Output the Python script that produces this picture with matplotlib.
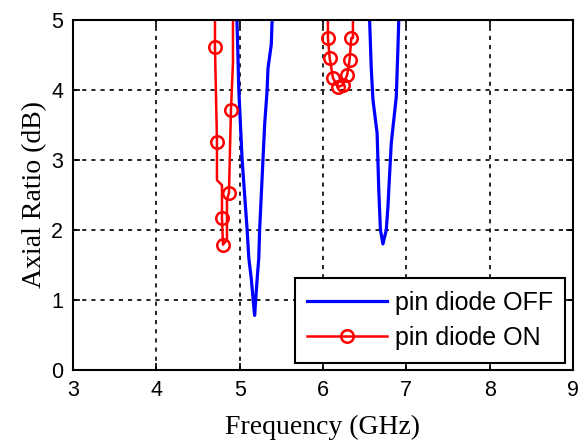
import numpy as np
import matplotlib
matplotlib.use("Agg")
import matplotlib.pyplot as plt

# data ##########################################################################################
off_f1 = [4.95, 4.968, 4.99, 5.03, 5.09, 5.11, 5.14, 5.17, 5.18, 5.21, 5.23, 5.24, 5.28, 5.30, 5.33, 5.34, 5.38, 5.39, 5.40]
off_ar1 = [5.5, 5.0, 4.0, 3.0, 2.0, 1.6, 1.3, 0.9, 0.78, 1.3, 1.6, 2.0, 3.0, 3.5, 4.0, 4.3, 4.65, 5.0, 5.5]

off_f2 = [6.55, 6.56, 6.58, 6.60, 6.65, 6.67, 6.69, 6.72, 6.76, 6.78, 6.79, 6.82, 6.88, 6.90, 6.91, 6.92]
off_ar2 = [5.5, 5.0, 4.3, 3.86, 3.38, 2.57, 2.0, 1.8, 2.0, 2.33, 2.57, 3.24, 3.9, 4.6, 5.0, 5.5]

on_f1 = [4.704, 4.704, 4.728, 4.728, 4.788, 4.788, 4.800, 4.848, 4.848, 4.872, 4.884, 4.896, 4.920, 4.920]
on_ar1 = [5.5, 4.61, 3.26, 2.71, 2.64, 2.17, 1.79, 1.86, 2.43, 2.53, 3.14, 3.71, 4.39, 5.5]
on_mark1 = [1, 2, 5, 6, 9, 11]

on_f2 = [6.06, 6.06, 6.08, 6.12, 6.18, 6.24, 6.29, 6.32, 6.34, 6.36, 6.36]
on_ar2 = [5.5, 4.74, 4.46, 4.17, 4.04, 4.07, 4.21, 4.43, 4.74, 4.74, 5.5]
on_mark2 = [1, 2, 3, 4, 5, 6, 7, 8]

x_ticks = [3, 4, 5, 6, 7, 8, 9]
y_ticks = [0, 1, 2, 3, 4, 5]

###################################################################################################
def main():
    fig = plt.figure(figsize=(5.84, 4.45), dpi=100)
    ax = fig.add_axes([0.125, 0.1685, 0.856, 0.787])

    ax.plot(off_f1, off_ar1, color="#0000ff", lw=2.3, label="pin diode OFF")
    ax.plot(off_f2, off_ar2, color="#0000ff", lw=2.3)
    ax.plot(on_f1, on_ar1, color="#ff0000", lw=1.8, marker="o", ms=9, mfc="none",
            mew=1.8, markevery=on_mark1, label="pin diode ON")
    ax.plot(on_f2, on_ar2, color="#ff0000", lw=1.8, marker="o", ms=9, mfc="none",
            mew=1.8, markevery=on_mark2)

    ax.set_xlim(3, 9)
    ax.set_ylim(0, 5)
    ax.set_xticks(x_ticks)
    ax.set_yticks(y_ticks)
    ax.grid(True, color="black", linestyle=(0, (2.5, 3)), linewidth=1.2)
    ax.tick_params(direction="in", length=5, width=1.2, labelsize=15.5, top=True, right=True)
    ax.tick_params(axis="y", pad=7)
    ax.tick_params(axis="x", pad=7)
    for lbl in ax.get_xticklabels() + ax.get_yticklabels():
        lbl.set_family("Liberation Sans")
    for s in ax.spines.values():
        s.set_linewidth(1.5)

    ax.set_xlabel("Frequency (GHz)", family="Liberation Serif", fontsize=20, labelpad=10)
    ax.set_ylabel("Axial Ratio (dB)", family="Liberation Serif", fontsize=20, labelpad=3)

    leg = ax.legend(loc="lower right", prop={"family": "Liberation Sans", "size": 18},
                    handlelength=3.2, fancybox=False, edgecolor="black", framealpha=1,
                    borderaxespad=0.3, labelspacing=0.45, borderpad=0.5, handletextpad=0.3)
    leg.get_frame().set_linewidth(1.5)

    fig.savefig("out.png", dpi=100)
    return

###################################################################################################
if __name__ == "__main__":
    main()
